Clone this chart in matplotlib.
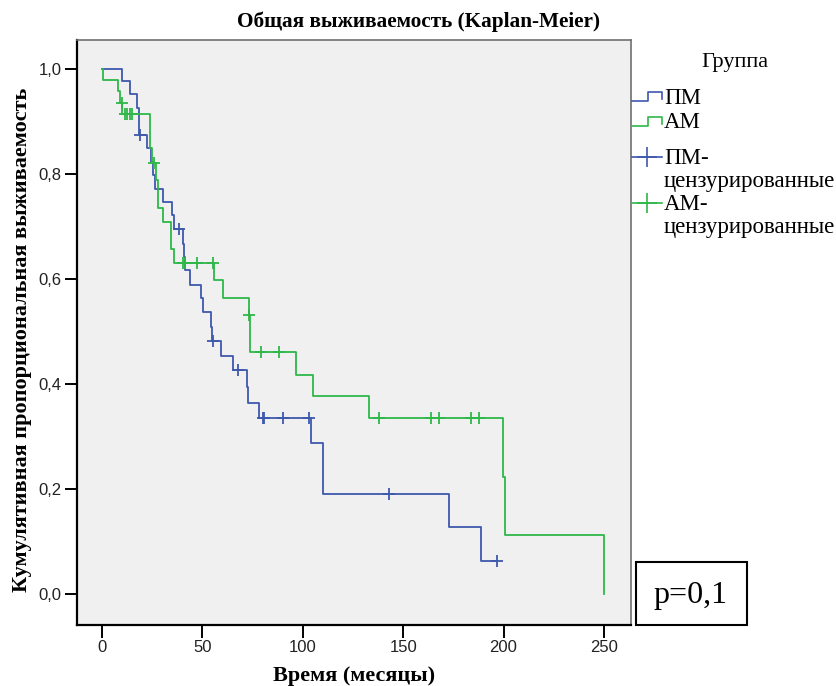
import matplotlib
matplotlib.use("Agg")
import matplotlib.pyplot as plt
from matplotlib.lines import Line2D
from matplotlib.patches import Rectangle
from matplotlib.ticker import FuncFormatter

# ---- Kaplan-Meier estimates (time in months, cumulative survival) ----
pm_times = [0, 10.1, 13.9, 17.3, 18.5, 22.2, 24.4, 25.2, 26.2, 30.2, 35.0, 36.0,
            40.2, 40.6, 41.3, 43.8, 49.3, 50.1, 54.3, 55.0, 59.1, 65.1, 72.1,
            72.9, 78.2, 104.0, 110.0, 173.0, 188.7, 196.9]
pm_surv = [1.0, 0.976, 0.952, 0.925, 0.874, 0.849, 0.822, 0.798, 0.771, 0.746,
           0.721, 0.695, 0.667, 0.641, 0.617, 0.589, 0.563, 0.537, 0.509, 0.482,
           0.453, 0.427, 0.395, 0.364, 0.335, 0.287, 0.190, 0.128, 0.063, 0.063]
pm_cens_t = [18.7, 38.3, 55.1, 67.9, 80.0, 80.7, 90.0, 103.2, 142.9, 196.9]
pm_cens_s = [0.874, 0.695, 0.482, 0.427, 0.335, 0.335, 0.335, 0.335, 0.190, 0.063]

am_times = [0, 0.3, 7.8, 9.0, 10.1, 24.0, 24.7, 26.9, 28.0, 30.2, 34.4, 36.0,
            55.8, 60.1, 73.2, 73.9, 96.4, 105.0, 133.0, 199.9, 200.7, 250.0]
am_surv = [1.0, 0.978, 0.957, 0.935, 0.914, 0.849, 0.820, 0.789, 0.735, 0.709,
           0.657, 0.631, 0.598, 0.564, 0.531, 0.461, 0.418, 0.377, 0.335, 0.223,
           0.112, 0.0]
am_cens_t = [9.8, 11.5, 12.6, 13.8, 14.9, 25.9, 40.2, 41.5, 47.2, 55.4, 73.3,
             79.0, 88.1, 138.0, 163.8, 167.8, 183.8, 187.9]
am_cens_s = [0.935, 0.914, 0.914, 0.914, 0.914, 0.820, 0.631, 0.631, 0.631,
             0.631, 0.531, 0.461, 0.461, 0.335, 0.335, 0.335, 0.335, 0.335]

x_ticks = [0, 50, 100, 150, 200, 250]
y_ticks = [0.0, 0.2, 0.4, 0.6, 0.8, 1.0]

title = "Общая выживаемость (Kaplan-Meier)"
x_label = "Время (месяцы)"
y_label = "Кумулятивная пропорциональная выживаемость"
legend_title = "Группа"
legend_labels = ["ПМ", "АМ", "ПМ-\nцензурированные", "АМ-\nцензурированные"]
p_text = "p=0,1"

BLUE = "#3E58AC"
GREEN = "#2EB848"
SERIF = ["Liberation Serif", "DejaVu Serif"]
SANS = ["Liberation Sans", "DejaVu Sans"]

W, H = 837, 686
fig = plt.figure(figsize=(W / 100, H / 100), dpi=100)
fig.patch.set_facecolor("white")

def fx(px):
    return px / W

def fy(py):
    return 1 - py / H

ax = fig.add_axes([fx(77), fy(625), fx(631) - fx(77), fy(40) - fy(625)])
ax.set_facecolor("#F0F0F0")

lw = 1.3
ax.step(pm_times, pm_surv, where="post", color=BLUE, lw=lw, zorder=3)
ax.step(am_times, am_surv, where="post", color=GREEN, lw=lw, zorder=3)
ax.plot(pm_cens_t, pm_cens_s, ls="none", marker="+", ms=9, mew=1.3,
        color=BLUE, zorder=4)
ax.plot(am_cens_t, am_cens_s, ls="none", marker="+", ms=9, mew=1.3,
        color=GREEN, zorder=4)

ax.set_xlim(-12.5, 263.5)
ax.set_ylim(-0.059, 1.055)
ax.set_xticks(x_ticks)
ax.set_yticks(y_ticks)
ax.yaxis.set_major_formatter(FuncFormatter(lambda v, _: f"{v:.1f}".replace(".", ",")))
ax.tick_params(direction="out", length=9, width=1.4, color="black",
               labelsize=12, pad=2)
for lab in ax.get_xticklabels() + ax.get_yticklabels():
    lab.set_fontfamily(SANS)
    lab.set_color("#222222")

for side in ["left", "bottom"]:
    ax.spines[side].set_linewidth(1.6)
    ax.spines[side].set_color("black")
for side in ["top", "right"]:
    ax.spines[side].set_linewidth(1.2)
    ax.spines[side].set_color("#707070")

fig.text(fx(419), fy(22), title, ha="center", va="center",
         fontsize=15.3, fontweight="bold", family=SERIF)
fig.text(fx(354), fy(676), x_label, ha="center", va="center",
         fontsize=16, fontweight="bold", family=SERIF)
fig.text(fx(22), fy(340), y_label, ha="center", va="center", rotation=90,
         fontsize=16, fontweight="bold", family=SERIF)

# ---- legend drawn in figure pixels ----
LEG_FS = 16.5
fig.text(fx(735), fy(62), legend_title, ha="center", va="center",
         fontsize=16, family=SERIF)

def step_icon(y, color):
    xs = [fx(632), fx(648), fx(648), fx(662), fx(662)]
    ys = [fy(y + 4), fy(y + 4), fy(y - 5), fy(y - 5), fy(y + 2)]
    fig.add_artist(Line2D(xs, ys, color=color, lw=1.2))

def cens_icon(y, color):
    fig.add_artist(Line2D([fx(632), fx(662)], [fy(y), fy(y)], color=color, lw=1.2))
    fig.add_artist(Line2D([fx(647)], [fy(y)], marker="+", ms=14, mew=1.2,
                          color=color, ls="none"))

step_icon(97, BLUE)
step_icon(122, GREEN)
cens_icon(157, BLUE)
cens_icon(203, GREEN)

legend_rows = [(legend_labels[0], [98]), (legend_labels[1], [123]),
               (legend_labels[2], [158, 181]), (legend_labels[3], [204, 227])]
for text, ys in legend_rows:
    for line, yy in zip(text.split("\n"), ys):
        fig.text(fx(664), fy(yy), line, ha="left", va="center",
                 fontsize=LEG_FS, family=SERIF)

# ---- p-value box ----
fig.add_artist(Rectangle((fx(636), fy(625)), fx(747) - fx(636), fy(562) - fy(625),
                         transform=fig.transFigure, fill=True, facecolor="white",
                         edgecolor="black", lw=1.5, zorder=5))
fig.text(fx(690), fy(595), p_text, ha="center", va="center",
         fontsize=23, family=SERIF, zorder=6)

fig.savefig("out.png", dpi=100)
